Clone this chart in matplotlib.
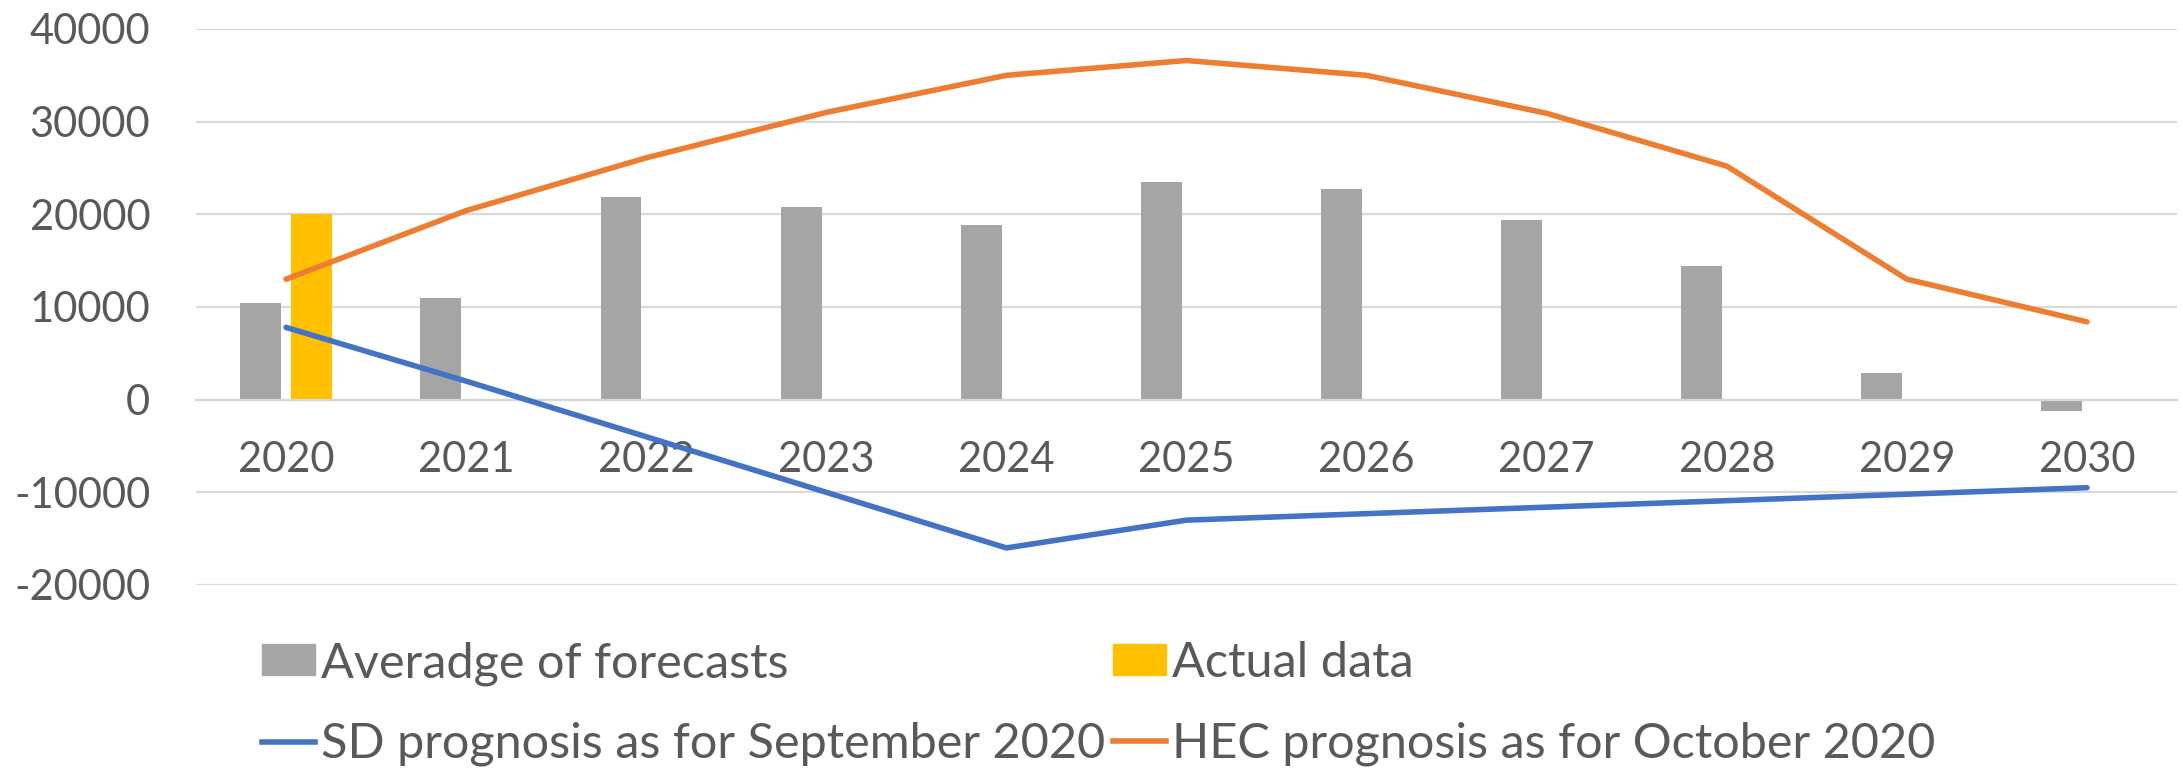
from matplotlib import pyplot as plt
from matplotlib.patches import Patch
from matplotlib.lines import Line2D
import numpy as np

plt.rcParams['font.family'] = ['Lato', 'DejaVu Sans']

years = ['2020', '2021', '2022', '2023', '2024', '2025', '2026', '2027', '2028', '2029', '2030']
# values:
averageForecasts = [10400, 11000, 21900, 20800, 18900, 23500, 22700, 19400, 14400, 2900, -1200]
actualData = [20000, np.nan, np.nan, np.nan, np.nan, np.nan, np.nan, np.nan, np.nan, np.nan, np.nan]
sdPrognosis = [7800, 2000, -4000, -10000, -16000, -13000, -12300, -11600, -10900, -10200, -9500]
hecPrognosis = [13000, 20400, 26100, 31000, 35000, 36600, 35000, 30900, 25200, 13000, 8400]

labels = ['Averadge of forecasts', 'Actual data',
          'SD prognosis as for September 2020', 'HEC prognosis as for October 2020']

colours = {'gray': '#A5A5A5', 'yellow': '#FFC000', 'blue': '#4472C4', 'orange': '#ED7D31'}
textColour = '#595959'
gridColour = '#D9D9D9'
fontSize = 30
legendFontSize = 35
lineWidth = 4

fig = plt.figure(figsize=(21.83, 7.71), dpi=100)
ax = fig.add_axes([196 / 2183, 1 - 585 / 771, (2177 - 196) / 2183, (585 - 29) / 771])

x = np.arange(len(years))
barWidth = 0.227
offset = 0.14

ax.bar(x - offset, averageForecasts, width=barWidth, color=colours['gray'], zorder=2)
ax.bar(x + offset, actualData, width=barWidth, color=colours['yellow'], zorder=2)
ax.plot(x, sdPrognosis, color=colours['blue'], lw=lineWidth, solid_capstyle='round', zorder=3)
ax.plot(x, hecPrognosis, color=colours['orange'], lw=lineWidth, solid_capstyle='round', zorder=3)

ax.set_xlim(-0.5, len(years) - 0.5)
ax.set_ylim(-20000, 40000)
ax.set_yticks(range(-20000, 40001, 10000))
ax.set_yticklabels([str(v) for v in range(-20000, 40001, 10000)])
ax.set_xticks(x)
ax.set_xticklabels(years)

ax.grid(axis='y', color=gridColour, lw=1.6, zorder=0)
ax.set_axisbelow(True)
for side in ('top', 'right', 'left'):
  ax.spines[side].set_visible(False)
# horizontal axis sits at zero, like in the spreadsheet:
ax.spines['bottom'].set_position(('data', 0))
ax.spines['bottom'].set_color(gridColour)
ax.spines['bottom'].set_linewidth(1.6)
ax.tick_params(axis='both', length=0, labelsize=fontSize, labelcolor=textColour)
ax.tick_params(axis='y', pad=33)
ax.tick_params(axis='x', pad=30)

handles = [Patch(color=colours['gray']),
           Line2D([], [], color=colours['blue'], lw=lineWidth),
           Patch(color=colours['yellow']),
           Line2D([], [], color=colours['orange'], lw=lineWidth)]
orderedLabels = [labels[0], labels[2], labels[1], labels[3]]
legend = fig.legend(handles, orderedLabels, ncol=2, loc='upper left',
                    bbox_to_anchor=(262 / 2183, 1 - 641 / 771), frameon=False,
                    fontsize=legendFontSize, handlelength=1.1, handleheight=0.6,
                    handletextpad=0.12, columnspacing=0.15, labelspacing=0.75,
                    borderpad=0, borderaxespad=0)
for text in legend.get_texts():
  text.set_color(textColour)

plt.savefig('out.png', dpi=100)
